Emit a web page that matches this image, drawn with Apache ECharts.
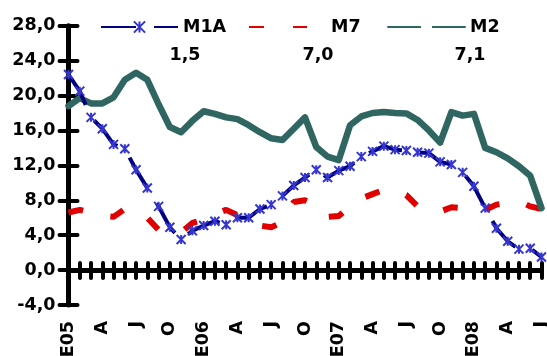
<!DOCTYPE html>
<html>
<head>
<meta charset="utf-8">
<script src="https://cdn.jsdelivr.net/npm/echarts@6/dist/echarts.min.js"></script>
<style>
  html, body { margin: 0; padding: 0; background: #fff; }
  #chart { width: 547px; height: 356px; }
</style>
</head>
<body>
<div id="chart"></div>
<script>
// monthly, Jan 2005 .. Jul 2008
const months = [
    'E05', 'F', 'M', 'A', 'M', 'J', 'J', 'A', 'S', 'O', 'N', 'D',
    'E06', 'F', 'M', 'A', 'M', 'J', 'J', 'A', 'S', 'O', 'N', 'D',
    'E07', 'F', 'M', 'A', 'M', 'J', 'J', 'A', 'S', 'O', 'N', 'D',
    'E08', 'F', 'M', 'A', 'M', 'J', 'J'
];
const m1a = [
    22.4, 20.5, 17.5, 16.2, 14.4, 13.9, 11.5, 9.4, 7.3, 4.9, 3.5, 4.5,
    5.1, 5.6, 5.2, 6.0, 6.0, 7.0, 7.5, 8.5, 9.7, 10.6, 11.5, 10.6,
    11.4, 11.9, 13.0, 13.6, 14.2, 13.8, 13.7, 13.5, 13.4, 12.4, 12.1, 11.2,
    9.6, 7.1, 4.8, 3.3, 2.4, 2.5, 1.5
];
const m7 = [
    6.6, 6.9, 6.6, 6.2, 6.1, 7.0, 6.9, 6.0, 4.6, 4.3, 4.3, 5.4,
    5.8, 6.4, 6.9, 6.3, 5.8, 5.1, 4.9, 5.5, 7.8, 8.0, 7.5, 6.1,
    6.2, 7.3, 8.2, 8.7, 9.2, 9.2, 8.6, 7.3, 6.9, 6.7, 7.2, 7.1,
    7.0, 6.9, 7.5, 7.7, 7.9, 7.3, 7.0
];
const m2 = [
    18.8, 19.7, 19.1, 19.1, 19.8, 21.8, 22.6, 21.8, 19.0, 16.4, 15.8, 17.1,
    18.2, 17.9, 17.5, 17.3, 16.6, 15.8, 15.1, 14.9, 16.2, 17.5, 14.1, 13.0,
    12.6, 16.6, 17.6, 18.0, 18.1, 18.0, 17.95, 17.2, 16.0, 14.6, 18.1, 17.7,
    17.9, 14.0, 13.5, 12.8, 11.9, 10.8, 7.1
];

const font = 'DejaVu Sans';
const fmt = (v) => v.toFixed(1).replace('.', ',');
const last = (a) => fmt(a[a.length - 1]);

const legendBase = {
    top: 13,
    itemWidth: 77,
    itemHeight: 14,
    textStyle: {fontFamily: font, fontWeight: 'bold', fontSize: 17.5, color: '#000'}
};
const noSymbol = {color: 'rgba(0,0,0,0)', borderWidth: 0};
const tickStyle = {color: '#000', width: 4, cap: 'round'};

const chart = echarts.init(document.getElementById('chart'));
const option = {
    animation: false,
    grid: {
        left: 68.5, right: 5.5, top: 25.7, bottom: 51,
        outerBounds: {left: -50, top: -50, right: -50, bottom: -50}
    },
    legend: [
        Object.assign({data: ['M1A'], left: 95}, legendBase),
        Object.assign({data: ['M7'], left: 243, itemStyle: noSymbol}, legendBase),
        Object.assign({data: ['M2'], left: 382, itemStyle: noSymbol}, legendBase)
    ],
    xAxis: [
        {
            // labels only, along the bottom of the plot
            type: 'category',
            data: months,
            boundaryGap: false,
            axisLine: {show: false, onZero: false},
            axisTick: {show: false},
            axisLabel: {
                interval: 2, rotate: 90, margin: 16,
                fontFamily: font, fontWeight: 'bold', fontSize: 17.5, color: '#000'
            },
            splitLine: {show: false}
        },
        {
            type: 'category',
            data: months,
            position: 'bottom',
            boundaryGap: false,
            axisLine: {onZero: true, lineStyle: {color: '#000', width: 5}},
            axisTick: {interval: 0, length: 8, lineStyle: tickStyle},
            axisLabel: {show: false},
            splitLine: {show: false}
        },
        {
            type: 'category',
            data: months,
            position: 'bottom',
            boundaryGap: false,
            axisLine: {onZero: true, lineStyle: {color: '#000', width: 5}},
            axisTick: {interval: 0, inside: true, length: 7, lineStyle: tickStyle},
            axisLabel: {show: false},
            splitLine: {show: false}
        }
    ],
    yAxis: [
        {
            type: 'value',
            min: -4, max: 28, interval: 4,
            axisLine: {show: true, lineStyle: {color: '#000', width: 5}},
            axisTick: {show: true, length: 9, lineStyle: tickStyle},
            axisLabel: {
                margin: 13, formatter: fmt,
                fontFamily: font, fontWeight: 'bold', fontSize: 17.5, color: '#000'
            },
            splitLine: {show: false}
        },
        {
            type: 'value',
            position: 'left',
            min: -4, max: 28, interval: 4,
            axisLine: {show: false},
            axisTick: {show: true, inside: true, length: 9, lineStyle: tickStyle},
            axisLabel: {show: false},
            splitLine: {show: false}
        }
    ],
    graphic: [
        {type: 'text', style: {text: last(m1a), x: 185, y: 55, align: 'center', verticalAlign: 'middle', font: 'bold 17.5px "DejaVu Sans"', fill: '#000'}},
        {type: 'text', style: {text: last(m7), x: 318, y: 55, align: 'center', verticalAlign: 'middle', font: 'bold 17.5px "DejaVu Sans"', fill: '#000'}},
        {type: 'text', style: {text: last(m2), x: 470, y: 55, align: 'center', verticalAlign: 'middle', font: 'bold 17.5px "DejaVu Sans"', fill: '#000'}}
    ],
    series: [
        {
            name: 'M7',
            type: 'line',
            data: m7,
            showSymbol: false,
            z: 2,
            lineStyle: {color: '#e00000', width: 6, type: [15, 28], cap: 'butt'},
            itemStyle: {color: '#e00000'}
        },
        {
            name: 'M2',
            type: 'line',
            data: m2,
            showSymbol: false,
            z: 3,
            lineStyle: {color: '#2f6661', width: 6.5, cap: 'round', join: 'round'},
            itemStyle: {color: '#2f6661'}
        },
        {
            name: 'M1A',
            type: 'line',
            data: m1a,
            symbol: 'path://M0,0L10,10M10,0L0,10M5,0L5,10',
            symbolSize: 9,
            showAllSymbol: true,
            z: 4,
            lineStyle: {color: '#000080', width: 4, type: [35, 18]},
            itemStyle: {color: '#3535d0', borderColor: '#3535d0', borderWidth: 2}
        }
    ]
};
chart.setOption(option);
</script>
</body>
</html>
